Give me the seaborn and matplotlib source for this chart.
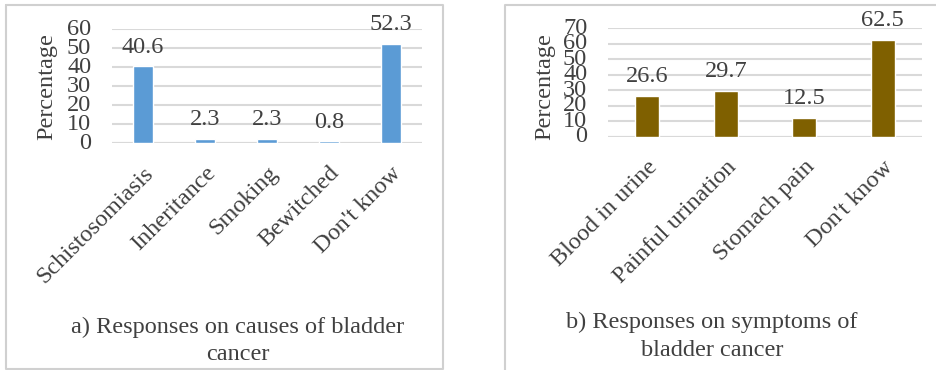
import matplotlib
matplotlib.use("Agg")
import matplotlib.pyplot as plt
import seaborn as sns
from matplotlib.lines import Line2D

# Data
causes = ["Schistosomiasis", "Inheritance", "Smoking", "Bewitched", "Don't know"]
causes_pct = [40.6, 2.3, 2.3, 0.8, 52.3]
symptoms = ["Blood in urine", "Painful urination", "Stomach pain", "Don't know"]
symptoms_pct = [26.6, 29.7, 12.5, 62.5]

W, H = 936, 370
TXT = "#404040"
GRID = "#D9D9D9"
BORDER = "#D0D0D0"
FS = 17.5
SERIF = ['Liberation Serif', 'DejaVu Serif']

sns.set_theme(style="white")
plt.rcParams['font.family'] = SERIF

fig = plt.figure(figsize=(W / 100, H / 100), dpi=100)


def px_axes(x0, y0, x1, y1):
    # pixel box (top-left origin) -> figure axes
    return fig.add_axes([x0 / W, 1 - y1 / H, (x1 - x0) / W, (y1 - y0) / H])


def fline(xs, ys):
    fig.add_artist(Line2D([x / W for x in xs], [1 - y / H for y in ys],
                          color=BORDER, lw=1.5, transform=fig.transFigure))


def ftext(x, y, s, **kw):
    fig.text(x / W, 1 - y / H, s, ha="center", va="center", fontsize=FS,
             color=TXT, family=SERIF, **kw)


def draw_panel(ax, cats, vals, color, ymax, step):
    sns.barplot(x=cats, y=vals, color=color, width=0.31, saturation=1, ax=ax)
    ax.set_ylim(0, ymax)
    ax.set_yticks(range(0, ymax + 1, step))
    ax.set_xlim(-0.5, len(cats) - 0.5)
    ax.yaxis.grid(True, color=GRID, lw=1.5)
    ax.set_axisbelow(True)
    for s in ax.spines.values():
        s.set_visible(False)
    ax.axhline(0, color=GRID, lw=1.5, zorder=0)
    ax.tick_params(axis="y", length=0, pad=15, labelsize=FS, labelcolor=TXT)
    ax.tick_params(axis="x", length=0, pad=14, labelsize=FS, labelcolor=TXT)
    for lab in ax.get_yticklabels():
        lab.set_verticalalignment("center")
    for lab in ax.get_xticklabels():
        lab.set_rotation(45)
        lab.set_ha("right")
        lab.set_va("top")
        lab.set_rotation_mode("anchor")
    ax.bar_label(ax.containers[0], fmt="%.1f", padding=6, fontsize=FS, color=TXT)


# Panel a
ax1 = px_axes(112, 29, 422, 143)
draw_panel(ax1, causes, causes_pct, "#5B9BD5", 60, 10)
ftext(47, 87, "Percentage", rotation=90)
ftext(238, 327, "a) Responses on causes of bladder")
ftext(238, 355, "cancer")
fline([6, 443, 443, 6, 6], [5, 5, 369, 369, 5])

# Panel b
ax2 = px_axes(608, 28, 922, 137)
draw_panel(ax2, symptoms, symptoms_pct, "#7F6000", 70, 10)
ftext(545, 87, "Percentage", rotation=90)
ftext(712, 322, "b) Responses on symptoms of")
ftext(712, 350, "bladder cancer")
fline([505, 505, 936], [370, 5, 5])

fig.savefig("out.png", dpi=100, facecolor="white")
